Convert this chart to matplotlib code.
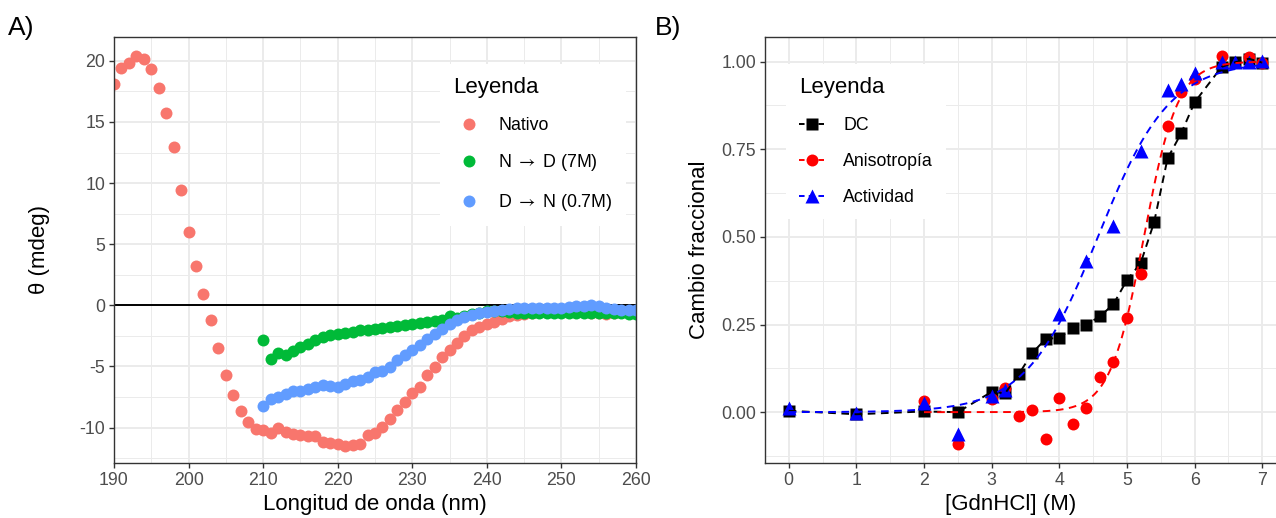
import matplotlib
matplotlib.use("Agg")
import numpy as np
import matplotlib.pyplot as plt
from matplotlib.lines import Line2D
from matplotlib.ticker import MultipleLocator, FixedLocator

plt.rcParams['font.family'] = ['Liberation Sans', 'DejaVu Sans']
plt.rcParams['lines.scale_dashes'] = False
plt.rcParams['axes.unicode_minus'] = False
plt.rcParams['mathtext.fontset'] = 'stixsans'

# ---------------- Panel A data (CD spectra) ----------------
wl_nativo = list(range(190, 261))
theta_nativo = [18.1, 19.4, 19.8, 20.4, 20.15, 19.3, 17.8, 15.75, 12.97, 9.42,
                6.0, 3.22, 0.9, -1.23, -3.47, -5.68, -7.35, -8.66, -9.56, -10.1,
                -10.2, -10.46, -10.0, -10.4, -10.5, -10.57, -10.66, -10.7, -11.2, -11.26,
                -11.34, -11.53, -11.4, -11.34, -10.57, -10.46, -9.97, -9.29, -8.6, -7.9,
                -7.2, -6.7, -5.68, -5.05, -4.23, -3.69, -3.09, -2.54, -2.05, -1.78,
                -1.5, -1.37, -1.09, -0.9, -0.77, -0.68, -0.6, -0.55, -0.49, -0.49,
                -0.49, -0.49, -0.49, -0.55, -0.6, -0.62, -0.68, -0.62, -0.55, -0.49,
                -0.55]
wl_desn = list(range(210, 261))
theta_desn = [-2.81, -4.37, -3.91, -4.1, -3.74, -3.42, -3.14, -2.87, -2.6, -2.46,
              -2.32, -2.24, -2.19, -2.05, -1.99, -1.91, -1.83, -1.78, -1.69, -1.6,
              -1.5, -1.45, -1.4, -1.3, -1.17, -0.9, -1.0, -0.9, -0.75, -0.6,
              -0.5, -0.45, -0.45, -0.55, -0.62, -0.65, -0.66, -0.65, -0.66, -0.65,
              -0.63, -0.65, -0.66, -0.65, -0.63, -0.66, -0.65, -0.66, -0.65, -0.68,
              -0.7]
wl_ren = list(range(210, 261))
theta_ren = [-8.2, -7.65, -7.46, -7.24, -7.05, -6.97, -6.83, -6.69, -6.5, -6.64,
             -6.69, -6.42, -6.23, -6.09, -5.87, -5.46, -5.38, -5.05, -4.5, -4.1,
             -3.69, -3.28, -2.73, -2.32, -1.91, -1.5, -1.17, -0.96, -0.77, -0.63,
             -0.55, -0.46, -0.36, -0.27, -0.19, -0.19, -0.19, -0.19, -0.22, -0.22,
             -0.19, -0.14, -0.08, -0.03, 0.0, -0.08, -0.19, -0.27, -0.36, -0.36,
             -0.36]
labels_a = ["Nativo", r"N $\rightarrow$ D (7M)", r"D $\rightarrow$ N (0.7M)"]
colors_a = ["#F8766D", "#00BA38", "#619CFF"]

# ---------------- Panel B data (denaturation) ----------------
conc_dc = [0, 1, 2, 2.5, 3, 3.2, 3.4, 3.6, 3.8, 4.0, 4.2, 4.4, 4.6, 4.8, 5.0, 5.2,
           5.4, 5.6, 5.8, 6.0, 6.4, 6.6, 6.8, 7.0]
frac_dc = [0.004, -0.006, 0.002, 0.0, 0.058, 0.054, 0.108, 0.169, 0.209, 0.212,
           0.24, 0.25, 0.273, 0.308, 0.377, 0.424, 0.541, 0.724, 0.795, 0.884,
           0.985, 0.998, 1.008, 0.997]
conc_anis = [2, 2.5, 3, 3.2, 3.4, 3.6, 3.8, 4.0, 4.2, 4.4, 4.6, 4.8, 5.0, 5.2,
             5.6, 5.8, 6.0, 6.4, 6.8, 7.0]
frac_anis = [0.033, -0.09, 0.038, 0.07, -0.012, 0.007, -0.076, 0.039, -0.033,
             0.011, 0.101, 0.143, 0.269, 0.394, 0.817, 0.912, 0.949, 1.015,
             1.014, 0.997]
conc_act = [0, 1, 2, 2.5, 3, 3.2, 4.0, 4.4, 4.8, 5.2, 5.6, 5.8, 6.0, 6.4, 6.6, 6.8, 7.0]
frac_act = [0.011, -0.003, 0.027, -0.063, 0.046, 0.063, 0.28, 0.431, 0.53,
            0.746, 0.92, 0.937, 0.967, 1.0, 1.0, 1.0, 1.002]
# sigmoid fit parameters (midpoint, width)
anis_fit = (5.25, 0.25)
act_fit = (4.57, 0.53)
labels_b = ["DC", "Anisotrop\u00eda", "Actividad"]

# ---------------- figure ----------------
W, H = 1276, 518
fig = plt.figure(figsize=(W / 100, H / 100), dpi=100)

def frac_box(l, r, t, b):
    return [l / W, 1 - b / H, (r - l) / W, (b - t) / H]

axA = fig.add_axes(frac_box(114, 636, 37, 463))
axB = fig.add_axes(frac_box(765, 1286, 37, 463))

grid_col = "#EBEBEB"
for ax in (axA, axB):
    ax.set_facecolor("white")
    ax.grid(True, which="major", color=grid_col, lw=1.4, zorder=0)
    ax.grid(True, which="minor", color=grid_col, lw=0.7, zorder=0)
    ax.set_axisbelow(True)
    for s in ax.spines.values():
        s.set_color("#333333")
        s.set_linewidth(1.0)
    ax.tick_params(which="major", length=3.8, width=1.0, color="#333333",
                   labelcolor="#4D4D4D", labelsize=12.8, pad=2.5)
    ax.tick_params(which="minor", length=0)

# Panel A
axA.axhline(0, color="black", lw=1.4, zorder=1)
for x, y, c in zip([wl_nativo, wl_desn, wl_ren], [theta_nativo, theta_desn, theta_ren], colors_a):
    axA.plot(x, y, linestyle="none", marker="o", ms=8.6, mfc=c, mec="none", zorder=2)
axA.set_xlim(190, 260)
axA.set_ylim(-12.9, 21.95)
axA.xaxis.set_major_locator(MultipleLocator(10))
axA.xaxis.set_minor_locator(MultipleLocator(5))
axA.yaxis.set_major_locator(MultipleLocator(5))
axA.yaxis.set_minor_locator(MultipleLocator(2.5))
axA.set_xlabel("Longitud de onda (nm)", fontsize=16, color="black")
axA.set_ylabel("\u03b8 (mdeg)", fontsize=16, color="black")
axA.xaxis.set_label_coords(0.5, -0.098)
axA.xaxis.label.set_va("center")
axA.yaxis.set_label_coords(-0.142, 0.5)
axA.yaxis.label.set_va("center")

handlesA = [Line2D([], [], linestyle="none", marker="o", ms=8.6, mfc=c, mec="none")
            for c in colors_a]
legA = axA.legend(handlesA, labels_a, title="Leyenda", loc="upper left",
                  bbox_to_anchor=((440 - 114) / 522, (463 - 64) / 426),
                  borderaxespad=0, fontsize=12.8, title_fontsize=16,
                  frameon=True, fancybox=False, framealpha=1, facecolor="white",
                  edgecolor="none", labelspacing=1.04, handlelength=1.77,
                  handletextpad=0.75, borderpad=0.75, alignment="left")
legA.get_frame().set_linewidth(0)

# Panel B
axB.plot(conc_dc, frac_dc, linestyle="none", marker="s", ms=8.4, mfc="black", mec="none", zorder=3)
axB.plot(conc_anis, frac_anis, linestyle="none", marker="o", ms=8.6, mfc="red", mec="none", zorder=3)
axB.plot(conc_act, frac_act, linestyle="none", marker="^", ms=10, mfc="blue", mec="none", zorder=3)

dash = (0, (5.5, 4.0))
axB.plot(conc_dc, frac_dc, color="black", lw=1.4, linestyle=dash, zorder=4)
xa = np.linspace(min(conc_anis), max(conc_anis), 300)
axB.plot(xa, 1 / (1 + np.exp((anis_fit[0] - xa) / anis_fit[1])), color="red", lw=1.4,
         linestyle=dash, zorder=4)
xb = np.linspace(min(conc_act), max(conc_act), 300)
axB.plot(xb, 1 / (1 + np.exp((act_fit[0] - xb) / act_fit[1])), color="blue", lw=1.4,
         linestyle=dash, zorder=4)

axB.set_xlim(-0.35, 7.35)
axB.set_ylim(-0.145, 1.07)
axB.xaxis.set_major_locator(MultipleLocator(1))
axB.xaxis.set_minor_locator(MultipleLocator(0.5))
axB.yaxis.set_major_locator(FixedLocator([0, 0.25, 0.5, 0.75, 1.0]))
axB.yaxis.set_minor_locator(FixedLocator([-0.125, 0.125, 0.375, 0.625, 0.875]))
axB.set_yticklabels(["0.00", "0.25", "0.50", "0.75", "1.00"])
axB.set_xlabel("[GdnHCl] (M)", fontsize=16, color="black")
axB.set_ylabel("Cambio fraccional", fontsize=16, color="black")
axB.xaxis.set_label_coords((1011 - 765) / 521, -0.098)
axB.xaxis.label.set_va("center")
axB.yaxis.set_label_coords(-0.125, 0.5)
axB.yaxis.label.set_va("center")

handlesB = [Line2D([], [], color=c, lw=1.4, linestyle=(0, (4.0, 3.0)), marker=m, ms=ms,
                   mfc=c, mec="none")
            for c, m, ms in [("black", "s", 8.4), ("red", "o", 8.6), ("blue", "^", 10)]]
legB = axB.legend(handlesB, labels_b, title="Leyenda", loc="upper left",
                  bbox_to_anchor=((786 - 765) / 521, (463 - 64) / 426),
                  borderaxespad=0, fontsize=12.8, title_fontsize=16,
                  frameon=True, fancybox=False, framealpha=1, facecolor="white",
                  edgecolor="none", labelspacing=1.06, handlelength=1.4,
                  handletextpad=1.07, borderpad=0.75, alignment="left")
legB.get_frame().set_linewidth(0)

fig.text(8 / W, 1 - 28 / H, "A)", fontsize=19, va="center", ha="left")
fig.text(655 / W, 1 - 28 / H, "B)", fontsize=19, va="center", ha="left")

fig.savefig("out.png", dpi=100)
